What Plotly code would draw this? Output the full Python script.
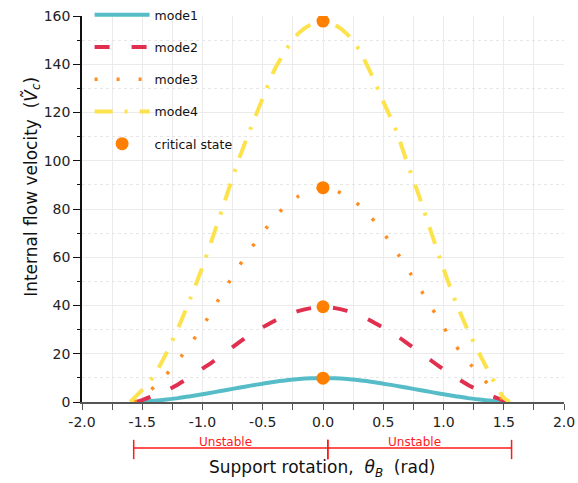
import plotly.graph_objects as go

# Support rotation (rad) and critical internal flow velocity for each mode
mode1_theta = [-1.50, -1.4, -1.3, -1.2, -1.1, -1.0, -0.9, -0.8, -0.7, -0.6, -0.5, -0.4, -0.3, -0.2, -0.1, 0.0,
               0.1, 0.2, 0.3, 0.4, 0.5, 0.6, 0.7, 0.8, 0.9, 1.0, 1.1, 1.2, 1.3, 1.4, 1.5, 1.55]
mode1_v = [0.05, 0.5, 1.0, 1.6, 2.4, 3.2, 4.1, 5.0, 5.9, 6.8, 7.6, 8.4, 9.0, 9.5, 9.8, 9.87,
           9.8, 9.5, 9.0, 8.4, 7.6, 6.8, 5.9, 5.0, 4.1, 3.2, 2.4, 1.6, 1.0, 0.5, 0.15, 0.0]

mode2_theta = [-1.55, -1.5, -1.4, -1.3, -1.2, -1.1, -1.0, -0.9, -0.8, -0.7, -0.6, -0.5, -0.4, -0.3, -0.2, -0.1, 0.0,
               0.1, 0.2, 0.3, 0.4, 0.5, 0.6, 0.7, 0.8, 0.9, 1.0, 1.1, 1.2, 1.3, 1.4, 1.5, 1.54]
mode2_v = [0.0, 0.8, 2.7, 4.7, 7.4, 10.4, 13.8, 17.2, 20.9, 24.6, 28.1, 31.0, 33.7, 36.1, 37.8, 38.9, 39.48,
           38.9, 37.8, 36.1, 33.6, 30.8, 27.9, 24.3, 20.7, 17.1, 13.5, 10.2, 7.2, 4.6, 2.5, 0.6, 0.0]

mode3_theta = [-1.57, -1.5, -1.4, -1.3, -1.2, -1.1, -1.0, -0.9, -0.8, -0.7, -0.6, -0.5, -0.4, -0.3, -0.2, -0.1, 0.0,
               0.1, 0.2, 0.3, 0.4, 0.5, 0.6, 0.7, 0.8, 0.9, 1.0, 1.1, 1.2, 1.3, 1.4, 1.5, 1.53]
mode3_v = [0.0, 1.5, 6.4, 11.4, 17.3, 24.1, 31.2, 39.7, 48.0, 56.1, 63.5, 70.2, 76.6, 81.8, 85.4, 87.8, 88.83,
           87.8, 85.1, 81.6, 76.5, 70.2, 63.0, 55.3, 47.4, 39.2, 31.1, 23.4, 17.0, 11.2, 5.8, 0.8, 0.0]

mode4_theta = [-1.60, -1.5, -1.4, -1.3, -1.2, -1.1, -1.0, -0.9, -0.8, -0.7, -0.6, -0.5, -0.4, -0.3, -0.2, -0.1, 0.0,
               0.1, 0.2, 0.3, 0.4, 0.5, 0.6, 0.7, 0.8, 0.9, 1.0, 1.1, 1.2, 1.3, 1.4, 1.5, 1.55]
mode4_v = [0.0, 5.0, 11.0, 20.3, 31.0, 43.0, 56.0, 70.5, 85.5, 100.4, 113.5, 126.0, 138.0, 146.5, 153.0, 156.5, 157.91,
           156.3, 152.5, 146.0, 136.0, 124.5, 113.5, 99.0, 85.0, 70.0, 55.2, 41.6, 30.0, 19.8, 10.2, 1.8, 0.0]

critical_theta = [0.0, 0.0, 0.0, 0.0]
critical_v = [9.87, 39.48, 88.83, 157.91]

# Unstable intervals marked under the x axis
unstable_ranges = [(-1.571, 0.04), (0.04, 1.565)]
unstable_label = "Unstable"

x_ticks = [-2.0, -1.5, -1.0, -0.5, 0.0, 0.5, 1.0, 1.5, 2.0]
y_ticks = [0, 20, 40, 60, 80, 100, 120, 140, 160]

x_title = "Support rotation,  <i>θ<sub>B</sub></i>  (rad)"
y_title = "Internal flow velocity  (<i>Ṽ<sub>c</sub></i>)"

FONT = "DejaVu Sans"

fig = go.Figure()

curves = [
    ("mode1", mode1_theta, mode1_v, "#56BDC8", "solid", 4),
    ("mode2", mode2_theta, mode2_v, "#E1304F", "15px,22px", 4),
    ("mode3", mode3_theta, mode3_v, "#FF8C1F", "3px,19px", 3.5),
    ("mode4", mode4_theta, mode4_v, "#FCE34E", "18px,12px,3px,12px", 4),
]
for name, xs, ys, color, dash, width in curves:
    fig.add_trace(go.Scatter(
        x=xs, y=ys, mode="lines", name=name, legendgroup=name,
        line=dict(color=color, dash=dash, width=width, shape="spline", smoothing=0.6),
    ))

fig.add_trace(go.Scatter(
    x=critical_theta, y=critical_v, mode="markers", name="critical state",
    legendgroup="critical",
    marker=dict(color="#FF7F00", size=13, line=dict(width=0)),
))

# Red interval bars with end caps
bar_y = -0.119
cap_lo, cap_hi = -0.098, -0.148
for a, b in unstable_ranges:
    fig.add_shape(type="line", xref="x", yref="paper", x0=a, x1=b, y0=bar_y, y1=bar_y,
                  line=dict(color="#FF1A1A", width=1.5))
    for xc in (a, b):
        fig.add_shape(type="line", xref="x", yref="paper", x0=xc, x1=xc, y0=cap_lo, y1=cap_hi,
                      line=dict(color="#FF1A1A", width=1.5))
    fig.add_annotation(x=(a + b) / 2 - 0.04, y=-0.103, xref="x", yref="paper",
                       text=unstable_label, showarrow=False, yanchor="middle",
                       font=dict(family=FONT, size=12, color="#FF1A1A"))

# Axis titles
fig.add_annotation(x=0.497, y=-0.171, xref="paper", yref="paper", text=x_title,
                   showarrow=False, xanchor="center", yanchor="middle",
                   font=dict(family=FONT, size=17, color="#111111"))
fig.add_annotation(x=-0.104, y=0.557, xref="paper", yref="paper", text=y_title,
                   showarrow=False, xanchor="center", yanchor="middle", textangle=-90,
                   font=dict(family=FONT, size=17, color="#111111"))

fig.update_layout(
    width=578, height=483,
    margin=dict(l=82, r=14, t=16, b=81, autoexpand=False),
    paper_bgcolor="white", plot_bgcolor="white",
    font=dict(family=FONT, color="#222222"),
    showlegend=True,
    legend=dict(
        xref="container", yref="container",
        x=0.155, y=1.0, xanchor="left", yanchor="top",
        bgcolor="rgba(0,0,0,0)", borderwidth=0,
        font=dict(family=FONT, size=12.5, color="#111111"),
        tracegroupgap=13, itemwidth=55,
    ),
)

fig.update_xaxes(
    range=[-2.0, 2.0], tickvals=x_ticks, ticktext=[f"{v:.1f}" for v in x_ticks],
    automargin=False,
    showline=True, linecolor="#555555", linewidth=1.5,
    ticks="outside", ticklen=6, tickwidth=1.2, tickcolor="#555555",
    tickfont=dict(family=FONT, size=14, color="#222222"),
    showgrid=True, gridcolor="#EBEBEB", gridwidth=1,
    minor=dict(dtick=0.25, ticks="outside", ticklen=6, tickwidth=1.2, tickcolor="#555555",
               showgrid=True, gridcolor="#EBEBEB", gridwidth=1),
    zeroline=False,
)

fig.update_yaxes(
    range=[0, 160], tickvals=y_ticks,
    automargin=False,
    showline=True, linecolor="#111111", linewidth=1.5,
    ticks="outside", ticklen=7, tickwidth=1.2, tickcolor="#111111",
    tickfont=dict(family=FONT, size=14, color="#222222"),
    showgrid=True, gridcolor="#EBEBEB", gridwidth=1,
    minor=dict(dtick=10, ticks="outside", ticklen=3, tickwidth=1, tickcolor="#111111",
               showgrid=True, gridcolor="#E6E6E6", gridwidth=1, griddash="dot"),
    zeroline=False,
)

fig.write_html("out.html")
